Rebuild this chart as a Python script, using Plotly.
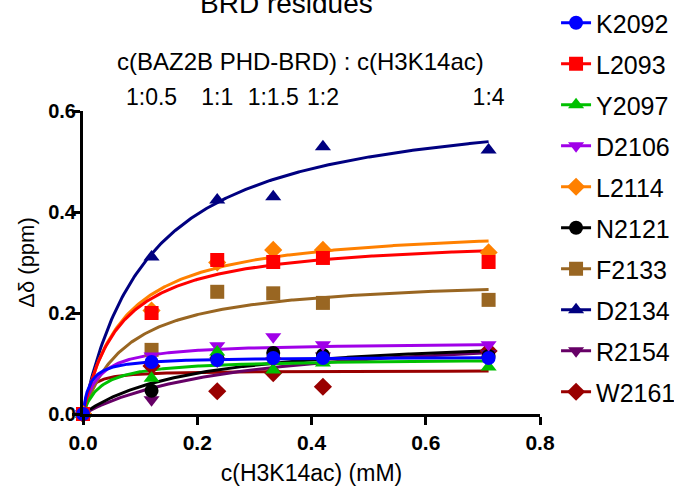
import numpy as np
import plotly.graph_objects as go

# ---------------- data ----------------
conc = [0.0, 0.12, 0.235, 0.333, 0.42, 0.71]          # c(H3K14ac) in mM
ratio_conc = [0.12, 0.235, 0.333, 0.42, 0.71]
ratio_labels = ["1:0.5", "1:1", "1:1.5", "1:2", "1:4"]

residues = ["K2092", "L2093", "Y2097", "D2106", "L2114",
            "N2121", "F2133", "D2134", "R2154", "W2161"]

K2092 = [0.0, 0.103, 0.107, 0.111, 0.111, 0.111]
L2093 = [0.0, 0.200, 0.305, 0.301, 0.309, 0.301]
Y2097 = [0.0, 0.071, 0.123, 0.087, 0.101, 0.093]
D2106 = [0.0, 0.115, 0.135, 0.153, 0.137, 0.137]
L2114 = [0.0, 0.205, 0.300, 0.325, 0.325, 0.320]
N2121 = [0.0, 0.046, 0.111, 0.121, 0.117, 0.115]
F2133 = [0.0, 0.127, 0.242, 0.239, 0.220, 0.226]
D2134 = [0.0, 0.311, 0.424, 0.430, 0.529, 0.523]
R2154 = [0.0, 0.028, 0.105, 0.105, 0.115, 0.120]
W2161 = [0.0, 0.095, 0.045, 0.081, 0.054, 0.125]

values = [K2092, L2093, Y2097, D2106, L2114, N2121, F2133, D2134, R2154, W2161]

# one-site binding fit parameters (Bmax, Kd)
fit_bmax = [0.113, 0.353, 0.1096, 0.142, 0.377, 0.159, 0.274, 0.629, 0.168, 0.086]
fit_kd = [0.0114, 0.065, 0.0312, 0.0255, 0.071, 0.193, 0.0785, 0.118, 0.274, 0.009]

# ---------------- styles ----------------
colors = ["#0000FF", "#FF0000", "#00C000", "#A000E8", "#FF8000",
          "#000000", "#996622", "#000080", "#660066", "#990000"]
symbols = ["circle", "square", "triangle-up", "triangle-down", "diamond",
           "circle", "square", "triangle-up", "triangle-down", "diamond"]

FONT = "Arial, Liberation Sans, sans-serif"

fig = go.Figure()

# fitted curves
xfit = np.linspace(0, max(conc), 300)
for i in reversed(range(len(residues))):
    yfit = fit_bmax[i] * xfit / (fit_kd[i] + xfit)
    fig.add_trace(go.Scatter(x=xfit, y=yfit, mode="lines",
                             line=dict(color=colors[i], width=3),
                             showlegend=False, hoverinfo="skip"))

# data points (K2092 on top)
for i in reversed(range(len(residues))):
    fig.add_trace(go.Scatter(x=conc, y=values[i], mode="markers",
                             marker=dict(symbol=symbols[i], color=colors[i], size=14,
                                         line=dict(width=0)),
                             name=residues[i], showlegend=False, cliponaxis=False))

# legend entries
for i in range(len(residues)):
    fig.add_trace(go.Scatter(x=[None], y=[None], mode="lines+markers",
                             marker=dict(symbol=symbols[i], color=colors[i], size=14),
                             line=dict(color=colors[i], width=3),
                             name=residues[i], legendgroup=residues[i]))

# invisible trace for the top ratio axis
fig.add_trace(go.Scatter(x=[None], y=[None], xaxis="x2", showlegend=False))

fig.update_layout(
    width=674, height=492,
    margin=dict(l=83, r=134, t=111, b=78, autoexpand=False),
    paper_bgcolor="white", plot_bgcolor="white",
    font=dict(family=FONT, color="black", size=22),
    xaxis=dict(range=[0, 0.8], tickvals=[0, 0.2, 0.4, 0.6, 0.8], tickformat=".1f",
               showline=True, linewidth=3, linecolor="black",
               ticks="outside", ticklen=8, tickwidth=3, tickcolor="black",
               showgrid=False, zeroline=False,
               tickfont=dict(size=21, weight="bold"),
               title=dict(text="c(H3K14ac) (mM)", font=dict(size=23), standoff=12)),
    xaxis2=dict(range=[0, 0.8], overlaying="x", side="top",
                tickvals=ratio_conc, ticktext=ratio_labels,
                showline=False, ticks="", showgrid=False, zeroline=False,
                tickfont=dict(size=23)),
    yaxis=dict(range=[0, 0.6], tickvals=[0, 0.2, 0.4, 0.6], tickformat=".1f",
               showline=True, linewidth=3, linecolor="black",
               ticks="outside", ticklen=8, tickwidth=3, tickcolor="black",
               showgrid=False, zeroline=False,
               tickfont=dict(size=20, weight="bold"), ticklabelstandoff=-8,
               title=dict(text="Δδ (ppm)", font=dict(size=22), standoff=8)),
    legend=dict(xref="container", yref="container", x=0.825, y=1.0,
                xanchor="left", yanchor="top", maxheight=1.0,
                font=dict(size=25), tracegroupgap=5.5, itemwidth=30,
                bgcolor="rgba(0,0,0,0)"),
    showlegend=True,
    annotations=[
        dict(text="c(BAZ2B PHD-BRD) : c(H3K14ac)", xref="paper", yref="paper",
             x=0.475, y=1.162, xanchor="center", yanchor="middle",
             showarrow=False, font=dict(size=24)),
        dict(text="BRD residues", xref="paper", yref="paper",
             x=0.446, y=1.355, xanchor="center", yanchor="middle",
             showarrow=False, font=dict(size=28)),
    ],
)

fig.write_html("out.html")
